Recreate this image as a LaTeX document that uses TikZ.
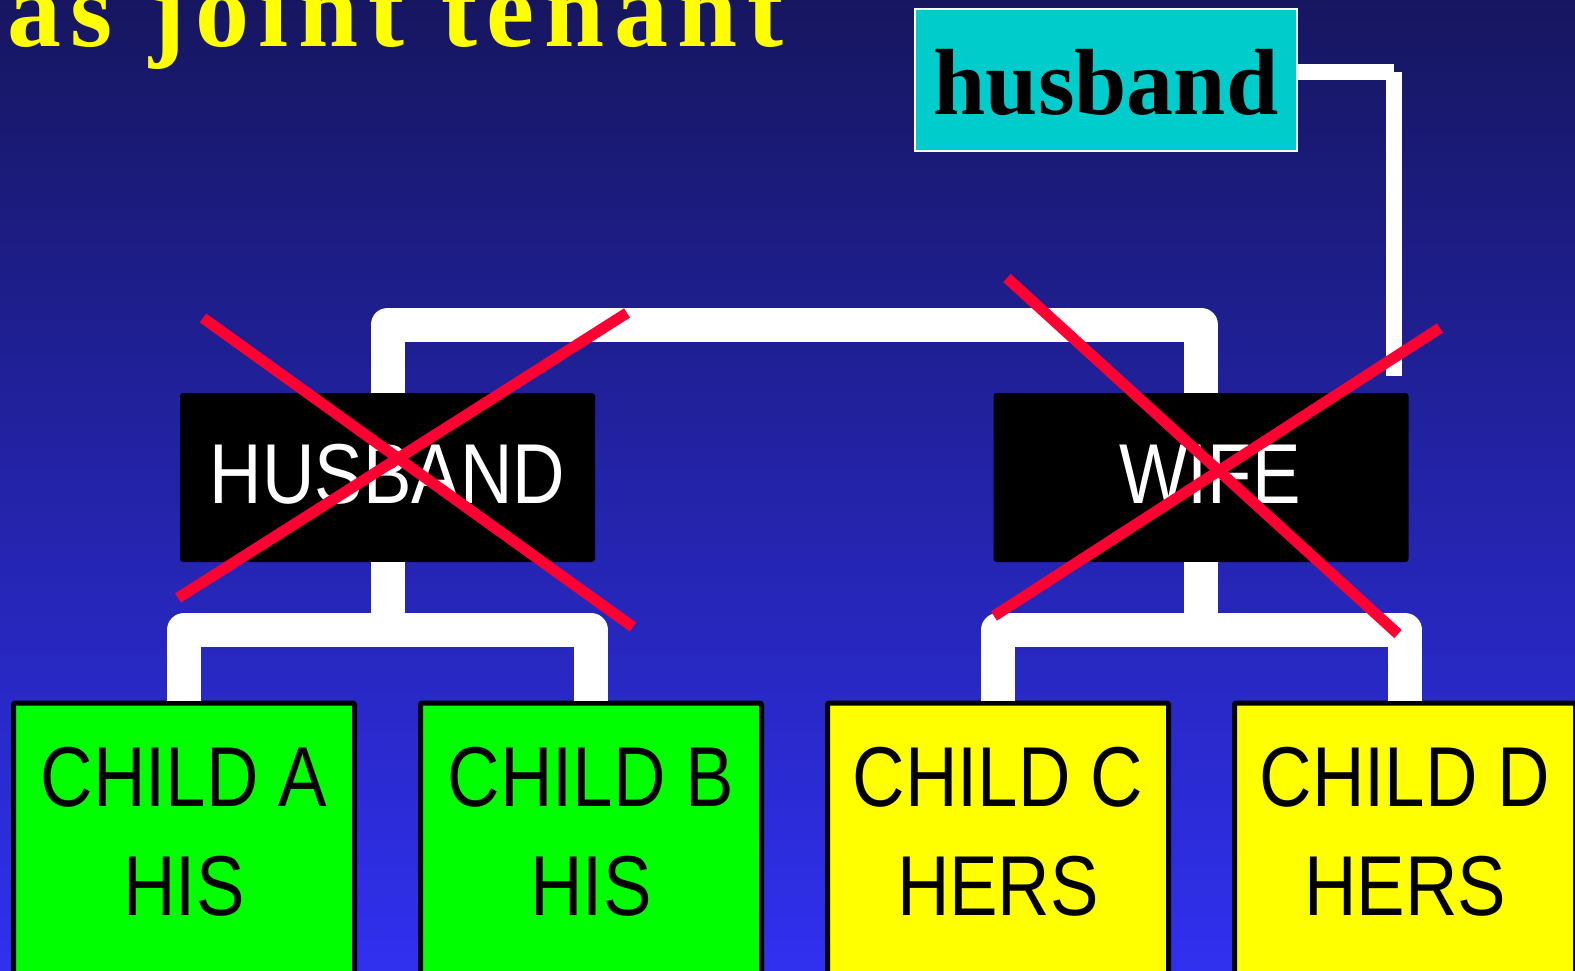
\documentclass[tikz,border=0pt]{standalone}
\usepackage{fontspec}
\usepackage{graphicx}
\newfontfamily\arialf{Liberation Sans}
\newfontfamily\titlef[LetterSpace=9]{Liberation Serif}
\newfontfamily\serifb{Liberation Serif}
\newcommand\nar[1]{\scalebox{0.855}[1]{#1}}
\definecolor{bgtop}{RGB}{22,22,96}
\definecolor{bgbot}{RGB}{48,48,240}
\definecolor{xred}{RGB}{255,0,51}
\definecolor{cyanbox}{RGB}{0,204,204}
\definecolor{gbox}{RGB}{0,255,0}
\definecolor{ybox}{RGB}{255,255,0}
\begin{document}
\begin{tikzpicture}[x=1pt,y=-1pt,
  conn/.style={draw=white, line width=34pt, line join=round},
  thinconn/.style={draw=white, line width=16pt},
  parentbox/.style={fill=black, rounded corners=3pt, minimum width=415pt, minimum height=169pt,
    inner sep=0pt, text=white, font=\arialf\fontsize{85}{85}\selectfont, text height=61pt, text depth=10pt},
  childbox/.style={draw=black, line width=5pt, rounded corners=2pt, minimum width=341pt,
    minimum height=330pt, inner sep=0pt, anchor=north},
  childtext/.style={align=center, anchor=north, inner sep=0pt, font=\arialf\fontsize{85}{109}\selectfont},
  cross/.style={draw=xred, line width=11pt},
]
\useasboundingbox (0,0) rectangle (1575,971);
\clip (0,0) rectangle (1575,971);
\shade[top color=bgtop, bottom color=bgbot] (0,0) rectangle (1575,971);

% title
\node[anchor=base west, inner sep=0pt, text={rgb,255:red,255;green,255;blue,0}] (title) at (7,47)
  {\titlef\bfseries\fontsize{108}{108}\selectfont as joint tenant};

% husband box
\node[fill=cyanbox, draw=white, line width=2pt, minimum width=382pt, minimum height=142pt,
  inner sep=0pt, text height=70pt, text depth=0pt,
  font=\serifb\bfseries\fontsize{94}{94}\selectfont] (hb) at (1106,80) {husband};
\coordinate (hbc) at (1394,72);
\coordinate (hbend) at (1394,376);
\draw[thinconn] (hb.east |- hbc) -- (hbc);
\draw[thinconn] (hbc) -- (hbend);

% parents
\node[parentbox] (HUS) at (387.5,477.5) {\nar{HUSBAND}};
\node[parentbox] (WIF) at (1201,477.5) {\hspace*{18pt}\nar{WIFE}};

% children
\node[childbox, fill=gbox] (CA) at (184,700.5) {};
\node[childbox, fill=gbox] (CB) at (591,700.5) {};
\node[childbox, fill=ybox] (CC) at (998,700.5) {};
\node[childbox, fill=ybox] (CD) at (1405,700.5) {};
\node[childtext] (TA) at (184,747) {\nar{CHILD A}\\\nar{HIS}};
\node[childtext] (TB) at (591,747) {\nar{CHILD B}\\\nar{HIS}};
\node[childtext] (TC) at (998,747) {\nar{CHILD C}\\\nar{HERS}};
\node[childtext] (TD) at (1405,747) {\nar{CHILD D}\\\nar{HERS}};

% connectors
\coordinate (topbar) at (0,324.5);
\coordinate (lowbar) at (0,630);
\draw[conn] (HUS.north) |- (WIF.north |- topbar) -- (WIF.north);
\draw[conn] (HUS.south) -- (HUS.south |- lowbar);
\draw[conn] (CA.north) |- (CB.north |- lowbar) -- (CB.north);
\draw[conn] (WIF.south) -- (WIF.south |- lowbar);
\draw[conn] (CC.north) |- (CD.north |- lowbar) -- (CD.north);

% crosses
\draw[cross] (203,318) -- (633,627);
\draw[cross] (178,598) -- (627,313);
\draw[cross] (1007,278) -- (1398,634);
\draw[cross] (994,616) -- (1440,328);
\end{tikzpicture}
\end{document}
